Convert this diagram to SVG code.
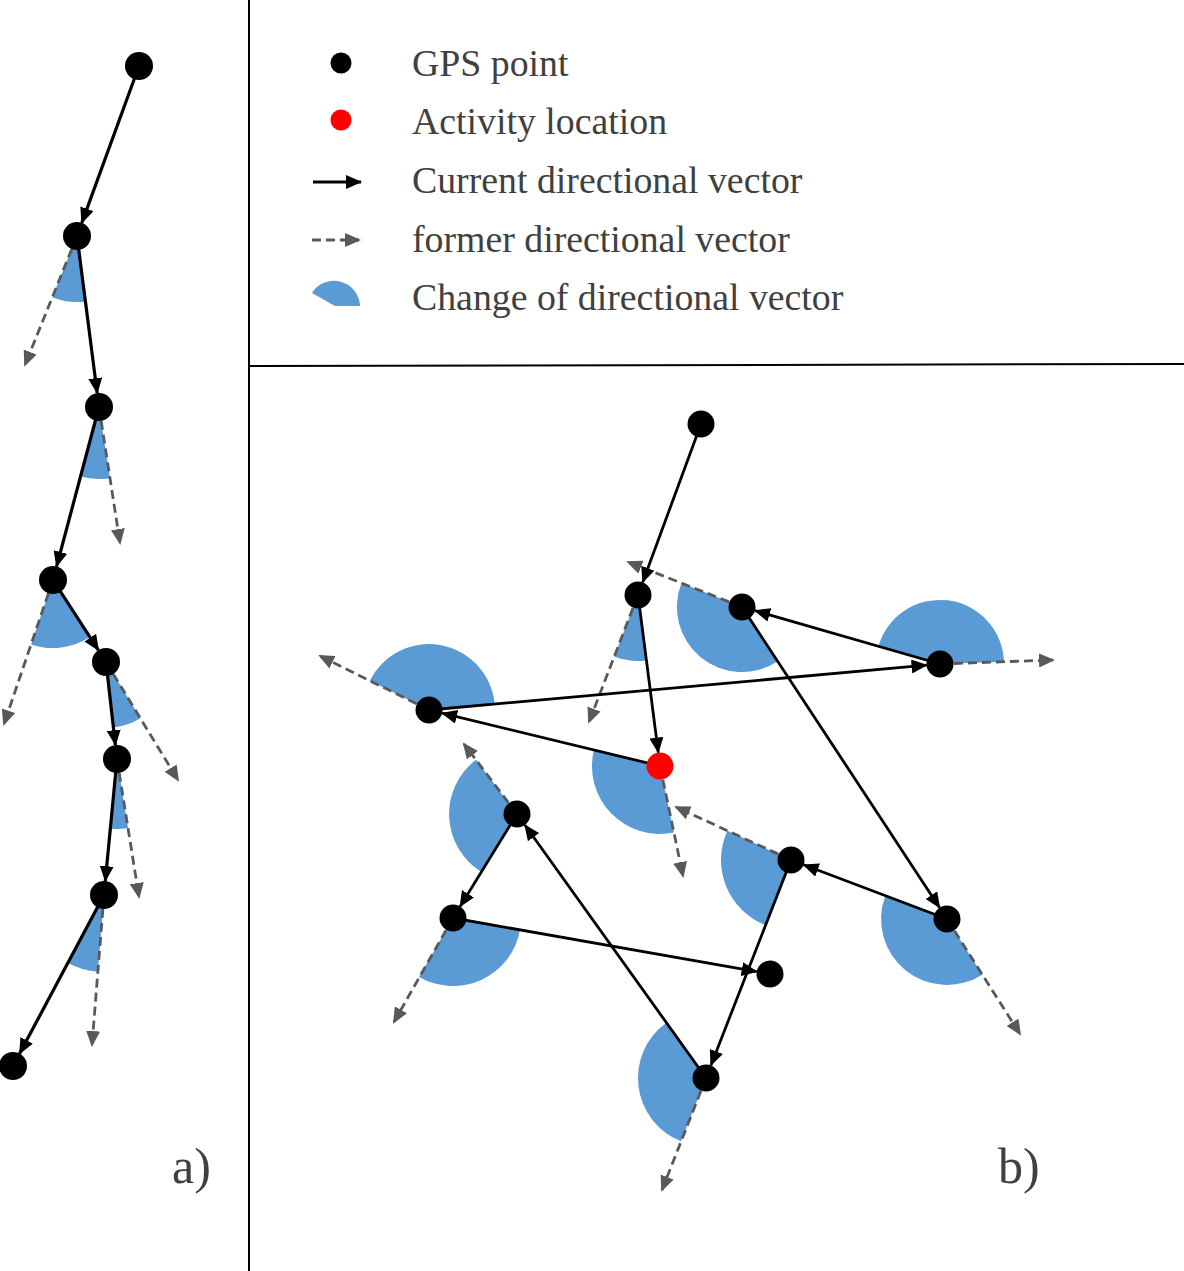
<svg xmlns="http://www.w3.org/2000/svg" width="1184" height="1271" viewBox="0 0 1184 1271">
<defs>
<style>
.frame{stroke:#000;stroke-width:2;fill:none}
.wedge{fill:#5B9BD5;stroke:none}
.cur{stroke:#000;stroke-width:2.8;fill:none;marker-end:url(#ah)}
.curA{stroke-width:3.2}
.old{stroke:#595959;stroke-width:2.8;fill:none;stroke-dasharray:9,5;marker-end:url(#ahg)}
.pt{fill:#000}
.act{fill:#FF0000}
.lbl{font-family:"Liberation Serif","Times New Roman",serif;font-size:37.8px;fill:#404040}
.panel{font-family:"Liberation Serif","Times New Roman",serif;font-size:50px;fill:#404040}
</style>
<marker id="ah" markerUnits="userSpaceOnUse" markerWidth="16" markerHeight="14" refX="15" refY="7" orient="auto" viewBox="0 0 16 14">
<path d="M0,0 L16,7 L0,14 z" fill="#000"/>
</marker>
<marker id="ahg" markerUnits="userSpaceOnUse" markerWidth="16" markerHeight="14" refX="14" refY="7" orient="auto" viewBox="0 0 16 14">
<path d="M0,0 L16,7 L0,14 z" fill="#595959"/>
</marker>
</defs>
<rect width="1184" height="1271" fill="#fff"/>
<g id="frame">
<line class="frame" x1="249" y1="0" x2="249" y2="1271"/>
<line class="frame" x1="249" y1="366" x2="1184" y2="364"/>
</g>
<g id="legend">
<g id="legend-gps"><circle class="pt" cx="341" cy="63" r="10.5"/><text class="lbl" x="412" y="76">GPS point</text></g>
<g id="legend-activity"><circle class="act" cx="341" cy="120" r="10.5"/><text class="lbl" x="412" y="134">Activity location</text></g>
<g id="legend-current"><line class="cur" x1="313" y1="182" x2="361" y2="182"/><text class="lbl" x="412" y="193">Current directional vector</text></g>
<g id="legend-former"><line class="old" x1="312" y1="240" x2="359" y2="240" stroke-dasharray="8,6"/><text class="lbl" x="412" y="252">former directional vector</text></g>
<g id="legend-change"><path class="wedge" d="M335,306 L312,293 A26,26 0 0 1 360,306 Z"/><text class="lbl" x="412" y="310">Change of directional vector</text></g>
</g>
<g id="wedges">
<path class="wedge" d="M77,236 L85.4,301.5 A66,66 0 0 1 52.3,297.2 Z"/>
<path class="wedge" d="M99,407 L110,478.2 A72,72 0 0 1 80.5,476.6 Z"/>
<path class="wedge" d="M53,580 L89.9,637.1 A68,68 0 0 1 31.1,644.4 Z"/>
<path class="wedge" d="M106,662 L140.4,718.3 A66,66 0 0 1 113.4,727.6 Z"/>
<path class="wedge" d="M117,759 L128,828.1 A70,70 0 0 1 110.3,828.7 Z"/>
<path class="wedge" d="M104,895 L97.9,971.8 A77,77 0 0 1 67.8,963 Z"/>
<path class="wedge" d="M638,595 L646.4,660.5 A66,66 0 0 1 614.2,656.6 Z"/>
<path class="wedge" d="M660,766 L673.9,832.6 A68,68 0 0 1 593.9,750 Z"/>
<path class="wedge" d="M429,710 L369.9,680.7 A66,66 0 0 1 494.7,704.1 Z"/>
<path class="wedge" d="M940,664 L878.5,646.3 A64,64 0 0 1 1004,661.7 Z"/>
<path class="wedge" d="M742,607 L777.7,661.3 A65,65 0 0 1 681.5,583.1 Z"/>
<path class="wedge" d="M947,919 L982.4,974.7 A66,66 0 0 1 885.3,895.7 Z"/>
<path class="wedge" d="M791,860 L765.6,925.2 A70,70 0 0 1 727.4,830.7 Z"/>
<path class="wedge" d="M706,1078 L681.1,1141.3 A68,68 0 0 1 666.4,1022.7 Z"/>
<path class="wedge" d="M517,814 L481.4,871.9 A68,68 0 0 1 476,759.8 Z"/>
<path class="wedge" d="M453,918 L520,929.8 A68,68 0 0 1 419,976.9 Z"/>
</g>
<g id="connectors">
<line class="old" x1="77" y1="236" x2="25" y2="365"/>
<line class="old" x1="99" y1="407" x2="120" y2="543"/>
<line class="old" x1="53" y1="580" x2="4" y2="724"/>
<line class="old" x1="106" y1="662" x2="178" y2="780"/>
<line class="old" x1="117" y1="759" x2="139" y2="897"/>
<line class="old" x1="104" y1="895" x2="92" y2="1045"/>
<line class="old" x1="638" y1="595" x2="589" y2="722"/>
<line class="old" x1="660" y1="766" x2="683" y2="876"/>
<line class="old" x1="429" y1="710" x2="320" y2="656"/>
<line class="old" x1="940" y1="664" x2="1053" y2="660"/>
<line class="old" x1="742" y1="607" x2="628" y2="562"/>
<line class="old" x1="947" y1="919" x2="1020" y2="1034"/>
<line class="old" x1="791" y1="860" x2="676" y2="807"/>
<line class="old" x1="706" y1="1078" x2="662" y2="1190"/>
<line class="old" x1="517" y1="814" x2="464" y2="744"/>
<line class="old" x1="453" y1="918" x2="394" y2="1022"/>
<line class="cur curA" x1="139" y1="66" x2="81.8" y2="222.9"/>
<line class="cur curA" x1="77" y1="236" x2="97.2" y2="393.1"/>
<line class="cur curA" x1="99" y1="407" x2="56.6" y2="566.5"/>
<line class="cur curA" x1="53" y1="580" x2="98.4" y2="650.2"/>
<line class="cur curA" x1="106" y1="662" x2="115.4" y2="745.1"/>
<line class="cur curA" x1="117" y1="759" x2="105.3" y2="881.1"/>
<line class="cur curA" x1="104" y1="895" x2="19.6" y2="1053.6"/>
<line class="cur" x1="701" y1="424" x2="642.7" y2="582.3"/>
<line class="cur" x1="638" y1="595" x2="658.3" y2="752.6"/>
<line class="cur" x1="660" y1="766" x2="442.1" y2="713.2"/>
<line class="cur" x1="429" y1="710" x2="926.6" y2="665.2"/>
<line class="cur" x1="940" y1="664" x2="755" y2="610.7"/>
<line class="cur" x1="742" y1="607" x2="939.6" y2="907.7"/>
<line class="cur" x1="947" y1="919" x2="803.6" y2="864.8"/>
<line class="cur" x1="791" y1="860" x2="710.9" y2="1065.4"/>
<line class="cur" x1="706" y1="1078" x2="524.9" y2="825"/>
<line class="cur" x1="517" y1="814" x2="460.1" y2="906.5"/>
<line class="cur" x1="453" y1="918" x2="756.7" y2="971.7"/>
</g>
<g id="node-a1"><circle class="pt" cx="139" cy="66" r="14"/></g>
<g id="node-a2"><circle class="pt" cx="77" cy="236" r="14"/></g>
<g id="node-a3"><circle class="pt" cx="99" cy="407" r="14"/></g>
<g id="node-a4"><circle class="pt" cx="53" cy="580" r="14"/></g>
<g id="node-a5"><circle class="pt" cx="106" cy="662" r="14"/></g>
<g id="node-a6"><circle class="pt" cx="117" cy="759" r="14"/></g>
<g id="node-a7"><circle class="pt" cx="104" cy="895" r="14"/></g>
<g id="node-a8"><circle class="pt" cx="13" cy="1066" r="14"/></g>
<g id="node-b1"><circle class="pt" cx="701" cy="424" r="13.5"/></g>
<g id="node-b2"><circle class="pt" cx="638" cy="595" r="13.5"/></g>
<g id="node-b-activity"><circle class="act" cx="660" cy="766" r="13.5"/></g>
<g id="node-b3"><circle class="pt" cx="429" cy="710" r="13.5"/></g>
<g id="node-b4"><circle class="pt" cx="940" cy="664" r="13.5"/></g>
<g id="node-b5"><circle class="pt" cx="742" cy="607" r="13.5"/></g>
<g id="node-b6"><circle class="pt" cx="947" cy="919" r="13.5"/></g>
<g id="node-b7"><circle class="pt" cx="791" cy="860" r="13.5"/></g>
<g id="node-b8"><circle class="pt" cx="706" cy="1078" r="13.5"/></g>
<g id="node-b9"><circle class="pt" cx="517" cy="814" r="13.5"/></g>
<g id="node-b10"><circle class="pt" cx="453" cy="918" r="13.5"/></g>
<g id="node-b11"><circle class="pt" cx="770" cy="974" r="13.5"/></g>
<g id="labels">
<text class="panel" x="172" y="1183">a)</text>
<text class="panel" x="998" y="1183">b)</text>
</g>
</svg>
